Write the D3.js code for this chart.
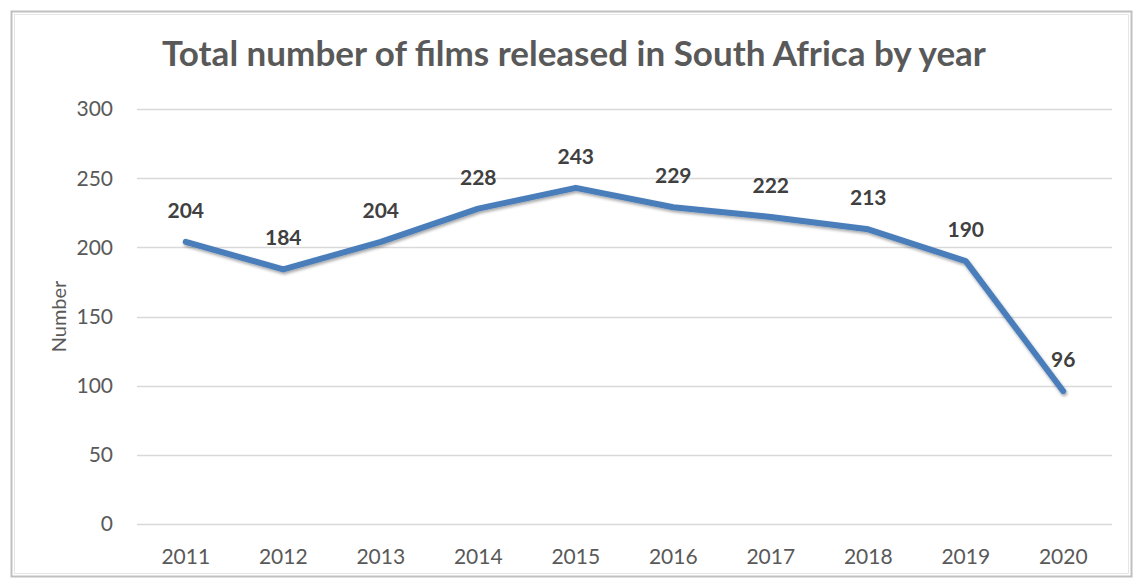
<!DOCTYPE html>
<html>
<head>
<meta charset="utf-8">
<script src="https://cdn.jsdelivr.net/npm/d3@7"></script>
<style>
  body { margin: 0; background: #fff; }
  text { font-family: Lato, "Open Sans", sans-serif; }
</style>
</head>
<body>
<script>
// chart data
const years = ["2011", "2012", "2013", "2014", "2015", "2016", "2017", "2018", "2019", "2020"];
const films = [204, 184, 204, 228, 243, 229, 222, 213, 190, 96];
const yTicks = [0, 50, 100, 150, 200, 250, 300];

const width = 1136, height = 580;
const margin = {top: 109, right: 24, bottom: 56, left: 137};

const svg = d3.select("body").append("svg")
    .attr("width", width)
    .attr("height", height);

// defs for the line shadow
const defs = svg.append("defs");
const filter = defs.append("filter").attr("id", "shadow")
    .attr("x", "-10%").attr("y", "-10%").attr("width", "120%").attr("height", "130%");
filter.append("feDropShadow")
    .attr("dx", 1).attr("dy", 2).attr("stdDeviation", 1.5)
    .attr("flood-color", "#000").attr("flood-opacity", 0.35);

// outer frame
svg.append("rect")
    .attr("x", 11.5).attr("y", 11.5)
    .attr("width", 1120).attr("height", 565)
    .attr("fill", "#fff")
    .attr("stroke", "#c0c0c0")
    .attr("stroke-width", 2);
svg.append("rect")
    .attr("x", 14.5).attr("y", 14.5)
    .attr("width", 1114).attr("height", 559)
    .attr("fill", "none")
    .attr("stroke", "#e6e6e6")
    .attr("stroke-width", 1);

const x = d3.scaleBand()
    .domain(years)
    .range([margin.left, width - margin.right]);

const y = d3.scaleLinear()
    .domain([0, 300])
    .range([height - margin.bottom, margin.top]);

// gridlines
svg.append("g")
    .selectAll("line")
    .data(yTicks)
    .enter().append("line")
    .attr("x1", margin.left)
    .attr("x2", width - margin.right)
    .attr("y1", d => Math.round(y(d)) + 0.5)
    .attr("y2", d => Math.round(y(d)) + 0.5)
    .attr("stroke", "#d9d9d9")
    .attr("stroke-width", 1.5);

// y axis labels
svg.append("g")
    .selectAll("text")
    .data(yTicks)
    .enter().append("text")
    .attr("x", 113)
    .attr("y", d => y(d))
    .attr("dy", "0.35em")
    .attr("text-anchor", "end")
    .attr("font-size", 21)
    .attr("fill", "#595959")
    .text(d => d);

// x axis labels
svg.append("g")
    .selectAll("text")
    .data(years)
    .enter().append("text")
    .attr("x", d => x(d) + x.bandwidth() / 2)
    .attr("y", 564)
    .attr("text-anchor", "middle")
    .attr("font-size", 21)
    .attr("fill", "#595959")
    .text(d => d);

// y axis title
svg.append("text")
    .attr("transform", "translate(66," + (y(150)) + ") rotate(-90)")
    .attr("text-anchor", "middle")
    .attr("font-size", 20)
    .attr("fill", "#595959")
    .text("Number");

// title
svg.append("text")
    .attr("x", 574)
    .attr("y", 66)
    .attr("text-anchor", "middle")
    .attr("font-size", 35)
    .attr("font-weight", "bold")
    .attr("fill", "#595959")
    .text("Total number of films released in South Africa by year");

// line
const line = d3.line()
    .x((d, i) => x(years[i]) + x.bandwidth() / 2)
    .y(d => y(d));

svg.append("path")
    .datum(films)
    .attr("d", line)
    .attr("fill", "none")
    .attr("stroke", "#4a7ebb")
    .attr("stroke-width", 6)
    .attr("stroke-linecap", "round")
    .attr("stroke-linejoin", "round")
    .attr("filter", "url(#shadow)");

// data labels
svg.append("g")
    .selectAll("text")
    .data(films)
    .enter().append("text")
    .attr("x", (d, i) => x(years[i]) + x.bandwidth() / 2)
    .attr("y", d => y(d) - 24)
    .attr("text-anchor", "middle")
    .attr("font-size", 21)
    .attr("font-weight", "bold")
    .attr("fill", "#404040")
    .text(d => d);
</script>
</body>
</html>
